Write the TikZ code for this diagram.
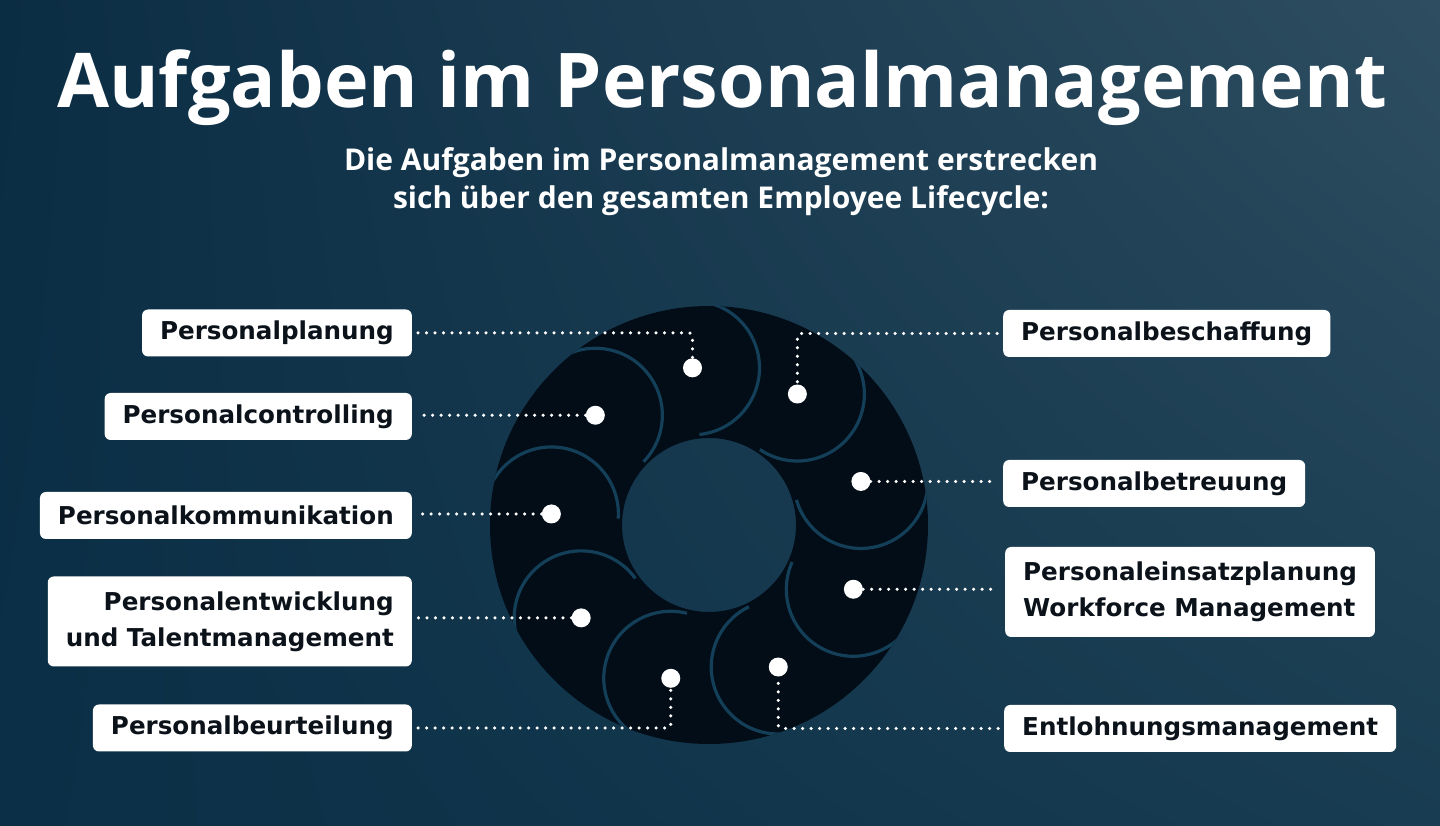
\documentclass[tikz,border=0pt]{standalone}
\usepackage{fontspec}
\setmainfont{Open Sans}
\newfontfamily\boxfont{DejaVu Sans}
\usetikzlibrary{positioning, shadings}

\definecolor{bgtl}{HTML}{0B2D44}
\definecolor{bgtr}{HTML}{2E4D60}
\definecolor{bgbl}{HTML}{0A2F46}
\definecolor{bgbr}{HTML}{183C51}
\definecolor{ringfill}{HTML}{020D17}
\definecolor{petalline}{HTML}{143F58}
\definecolor{boxtext}{HTML}{0B121A}

\begin{document}
\begin{tikzpicture}[x=1pt, y=1pt,
    box/.style = {fill=white, rounded corners=6pt, text=boxtext,
      font=\boxfont\bfseries\fontsize{24.6}{36}\selectfont, inner xsep=18pt, minimum height=47pt},
    twoline/.style = {minimum height=90pt},
    pt/.style = {circle, fill=white, inner sep=0pt, minimum size=19pt},
    link/.style = {white, line width=3.5pt, line cap=round, dash pattern=on 0pt off 8.5pt, rounded corners=3pt},
    petal/.style = {petalline, line width=3.2pt}]

% background
\shade[upper left=bgtl, upper right=bgtr, lower left=bgbl, lower right=bgbr] (0,0) rectangle (1440,826);
\useasboundingbox (0,0) rectangle (1440,826);

% title
\node[text=white, font=\bfseries\fontsize{75.5}{80}\selectfont, anchor=base] (title) at (722,718) {Aufgaben im Personalmanagement};
\node[text=white, font=\bfseries\fontsize{30}{38}\selectfont, align=center, anchor=base] (sub) at (721,617)
  {Die Aufgaben im Personalmanagement erstrecken\\sich über den gesamten Employee Lifecycle:};

% ring
\coordinate (c) at (709,301);
\fill[ringfill, even odd rule] (c) circle[radius=219] (c) circle[radius=87];
\begin{scope}
  \clip (c) circle[radius=219];
  \foreach \a in {96,56,16,-24,-64,-104,-144,-184,-224}
    \draw[petal] (c) ++(\a:158) ++(\a:67) arc[start angle=\a, end angle=\a-180, radius=67];
\end{scope}

% points on the ring
\path (c) ++(96:158) node[pt] (dplan) {};
\path (c) ++(56:158) node[pt] (dbesch) {};
\path (c) ++(16:158) node[pt] (dbetr) {};
\path (c) ++(-24:158) node[pt] (deins) {};
\path (c) ++(-64:158) node[pt] (dlohn) {};
\path (c) ++(-104:158) node[pt] (dbeurt) {};
\path (c) ++(-144:158) node[pt] (dentw) {};
\path (c) ++(-184:158) node[pt] (dkomm) {};
\path (c) ++(-224:158) node[pt] (dcontr) {};

% labels left
\node[box, anchor=east] (plan) at (412,493) {Personalplanung};
\node[box, anchor=east] (contr) at (412,409.5) {Personalcontrolling};
\node[box, anchor=east] (komm) at (412,310.5) {Personalkommunikation};
\node[box, twoline, anchor=east, align=right] (entw) at (412,204.5) {Personalentwicklung\\und Talentmanagement};
\node[box, anchor=east] (beurt) at (412,98) {Personalbeurteilung};

% labels right
\node[box, anchor=west] (besch) at (1003,492.5) {Personalbeschaffung};
\node[box, anchor=west] (betr) at (1003,342.5) {Personalbetreuung};
\node[box, twoline, anchor=west, align=left] (eins) at (1005,234) {Personaleinsatzplanung\\Workforce Management};
\node[box, anchor=west] (lohn) at (1004,97.5) {Entlohnungsmanagement};

% connectors
\draw[link] ([xshift=6pt]plan.east) -| (dplan);
\draw[link] (dcontr) -- ([xshift=6pt]dcontr -| contr.east);
\draw[link] (dkomm) -- ([xshift=6pt]dkomm -| komm.east);
\draw[link] (dentw) -- ([xshift=6pt]dentw -| entw.east);
\draw[link] ([xshift=6pt]beurt.east) -| (dbeurt);
\draw[link] ([xshift=-6pt]besch.west) -| (dbesch);
\draw[link] (dbetr) -- ([xshift=-6pt]dbetr -| betr.west);
\draw[link] (deins) -- ([xshift=-6pt]deins -| eins.west);
\draw[link] ([xshift=-6pt]lohn.west) -| (dlohn);
\end{tikzpicture}
\end{document}
